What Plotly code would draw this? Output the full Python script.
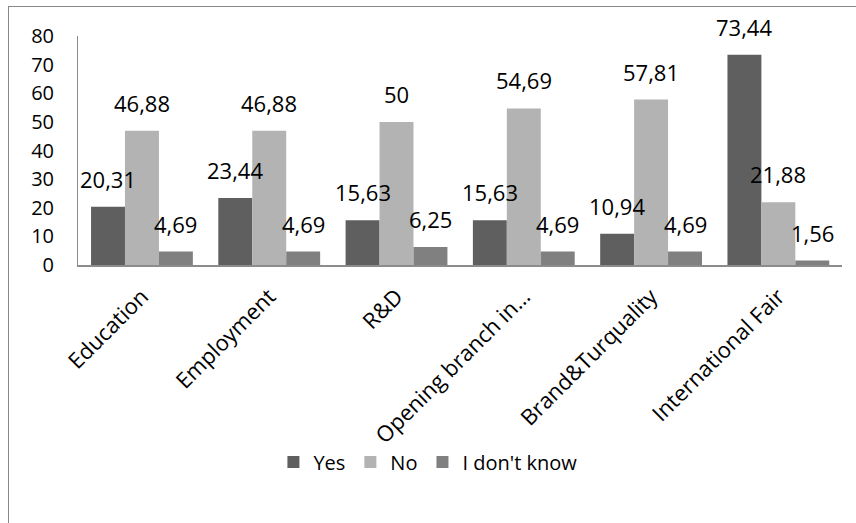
import plotly.graph_objects as go

categories = ["Education", "Employment", "R&D", "Opening branch in…", "Brand&Turquality", "International Fair"]
series_names = ["Yes", "No", "I don't know"]
yes_vals = [20.31, 23.44, 15.63, 15.63, 10.94, 73.44]
no_vals = [46.88, 46.88, 50, 54.69, 57.81, 21.88]
idk_vals = [4.69, 4.69, 6.25, 4.69, 4.69, 1.56]
y_ticks = [0, 10, 20, 30, 40, 50, 60, 70, 80]

colors = ["#5f5f5f", "#b3b3b3", "#808080"]
FONT = "Open Sans"

W, H = 856, 523
ML, MR, MT, MB = 78, 14, 36, 258
BARGAP = 0.2

fig = go.Figure()
all_vals = [yes_vals, no_vals, idk_vals]
for name, vals, c in zip(series_names, all_vals, colors):
    fig.add_trace(go.Bar(name=name, x=categories, y=vals, marker=dict(color=c, line=dict(width=0))))

plot_w = W - ML - MR
cat_w = plot_w / len(categories)
bar_w = cat_w * (1 - BARGAP) / len(series_names)


def fmt(v):
    s = f"{v:.2f}".rstrip("0").rstrip(".")
    return s.replace(".", ",")


for si, vals in enumerate(all_vals):
    xs = (si - (len(series_names) - 1) / 2) * bar_w
    for cat, v in zip(categories, vals):
        fig.add_annotation(x=cat, y=v, text=fmt(v), showarrow=False, xanchor="center", yanchor="bottom",
                           xshift=xs, yshift=11, font=dict(family=FONT, size=22, color="black"))

plot_h = H - MT - MB
# outer chart border (top and left edges visible)
px = lambda p: (p - ML) / plot_w
py = lambda p: (H - MB - p) / plot_h
fig.add_shape(type="line", xref="paper", yref="paper", x0=px(8), x1=px(W + 5), y0=py(6.5), y1=py(6.5),
              line=dict(color="#888888", width=1))
fig.add_shape(type="line", xref="paper", yref="paper", x0=px(8.5), x1=px(8.5), y0=py(6.5), y1=py(H + 5),
              line=dict(color="#888888", width=1))

fig.update_layout(
    width=W, height=H,
    margin=dict(l=ML, r=MR, t=MT, b=MB, autoexpand=False),
    paper_bgcolor="white", plot_bgcolor="white",
    barmode="group", bargap=BARGAP, bargroupgap=0,
    font=dict(family=FONT, color="black"),
    showlegend=True,
    legend=dict(orientation="h", x=0.458, xanchor="center", y=-0.86, yanchor="middle",
                font=dict(family=FONT, size=20), traceorder="normal", itemwidth=30),
    xaxis=dict(showline=True, linecolor="#8c8c8c", linewidth=2, ticks="", tickangle=-45,
               tickfont=dict(family=FONT, size=22), showgrid=False, ticklabelstandoff=8),
    yaxis=dict(range=[0, 80], tickvals=y_ticks, showline=True, linecolor="#8c8c8c", linewidth=1,
               ticks="", showgrid=False, zeroline=False, ticklabelstandoff=19,
               tickfont=dict(family=FONT, size=20)),
)

fig.write_html("out.html")
